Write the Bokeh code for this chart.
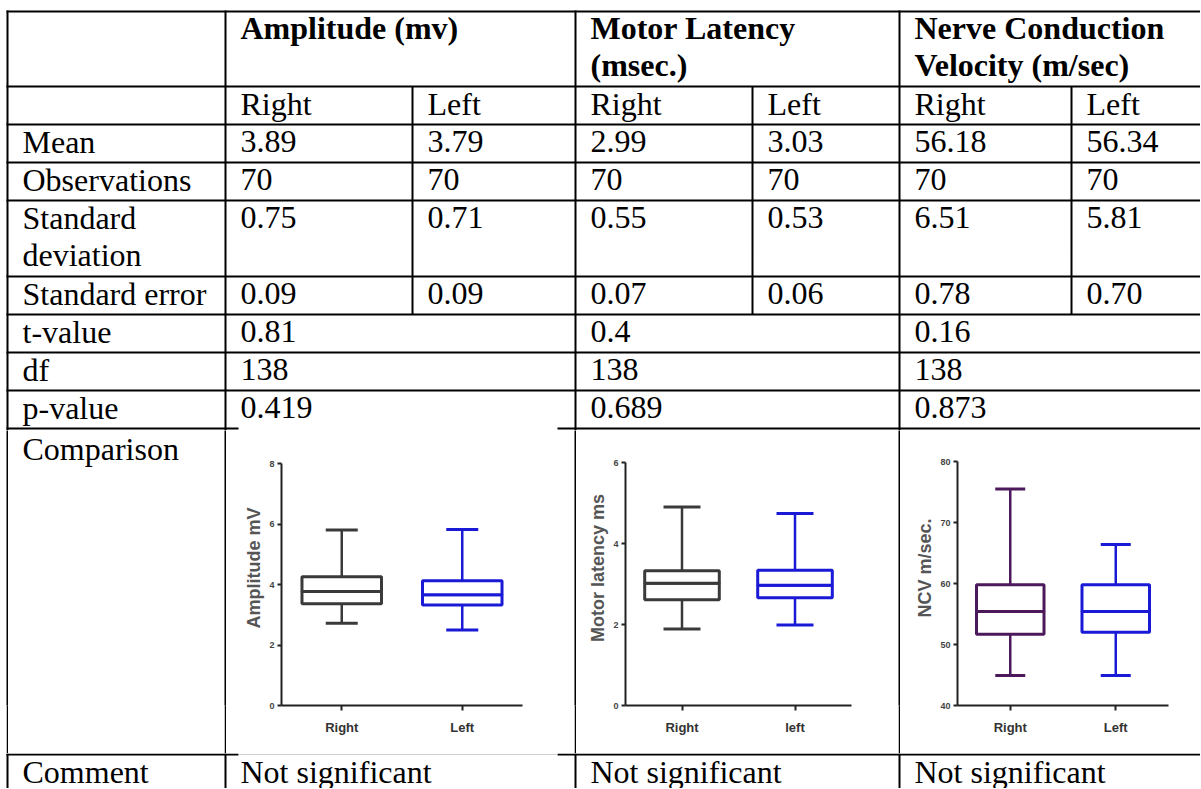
from bokeh.plotting import figure
from bokeh.layouts import column, row
from bokeh.models import Range1d, FactorRange, FixedTicker, ColumnDataSource, Spacer
from bokeh.embed import file_html
from bokeh.resources import INLINE
from bokeh.core.properties import value

# ---------------- data ----------------
row_labels = ["Mean", "Observations", "Standard", "Standard error", "t-value", "df", "p-value", "Comparison", "Comment"]
row_label_wrap = "deviation"
measure_headers = [["Amplitude (mv)"], ["Motor Latency", "(msec.)"], ["Nerve Conduction", "Velocity (m/sec)"]]
sides = ["Right", "Left", "Right", "Left", "Right", "Left"]
mean_vals = ["3.89", "3.79", "2.99", "3.03", "56.18", "56.34"]
obs_vals = ["70", "70", "70", "70", "70", "70"]
sd_vals = ["0.75", "0.71", "0.55", "0.53", "6.51", "5.81"]
se_vals = ["0.09", "0.09", "0.07", "0.06", "0.78", "0.70"]
t_vals = ["0.81", "0.4", "0.16"]
df_vals = ["138", "138", "138"]
p_vals = ["0.419", "0.689", "0.873"]
comments = ["Not significant", "Not significant", "Not significant"]

amp_cats = ["Right", "Left"]
amp_min = [2.72, 2.50]
amp_q1 = [3.36, 3.32]
amp_med = [3.77, 3.66]
amp_q3 = [4.26, 4.12]
amp_max = [5.80, 5.82]
amp_ticks = [0, 2, 4, 6, 8]

mot_cats = ["Right", "left"]
mot_min = [1.89, 1.99]
mot_q1 = [2.61, 2.66]
mot_med = [3.02, 2.97]
mot_q3 = [3.33, 3.34]
mot_max = [4.90, 4.74]
mot_ticks = [0, 2, 4, 6]

ncv_cats = ["Right", "Left"]
ncv_min = [44.9, 44.9]
ncv_q1 = [51.7, 52.0]
ncv_med = [55.4, 55.4]
ncv_q3 = [59.8, 59.8]
ncv_max = [75.5, 66.4]
ncv_ticks = [40, 50, 60, 70, 80]

# ---------------- layout constants (page pixels) ----------------
SERIF = "Liberation Serif"
SANS = "Liberation Sans"
FS = "32px"
W = 1200
LEFT, C1, C1B, C2, C2B, C3, C3B = 7, 225, 412, 575, 752, 899, 1071
ROWS = [11, 86, 124, 162, 200, 276, 314, 352, 390, 428]
CMP_BOTTOM = 754
PAD = 15
BASE = 28          # baseline below a row's top line
MIDOFF = 11        # em-box middle above the baseline
TOP_END, MID_END, PAGE_END = 430, 753, 788
AXIS_Y = 705       # common x-axis position of the three box plots
IMG_GAP = (238, 557)


def table_fig(w, h, x0, x1, ytop, ybot, **kw):
    p = figure(width=w, height=h, x_range=Range1d(x0, x1), y_range=Range1d(ybot, ytop),
               toolbar_location=None, output_backend="svg", min_border=0,
               x_axis_type=None, y_axis_type=None, outline_line_color=None,
               background_fill_color="white", border_fill_color="white", **kw)
    return p


def lines(p, segs, color="black", width=2):
    p.segment(x0=[s[0] for s in segs], y0=[s[1] for s in segs],
              x1=[s[2] for s in segs], y1=[s[3] for s in segs],
              line_color=color, line_width=width)


def put(p, xs, baselines, texts, bold=False):
    p.text(x=xs, y=[b - MIDOFF for b in baselines], text=texts, text_font=value(SERIF),
           text_font_size=FS, text_baseline="middle", text_align="left", text_color="black",
           text_font_style="bold" if bold else "normal")


# ---------------- top part of the table ----------------
top = table_fig(W, TOP_END, 0, W, 0, TOP_END)
segs = []
for y in ROWS[:-1]:
    segs.append((LEFT - 1, y, W, y))
segs.append((LEFT - 1, ROWS[-1], IMG_GAP[0], ROWS[-1]))
segs.append((IMG_GAP[1], ROWS[-1], W, ROWS[-1]))
for x in (LEFT, C1, C2, C3):
    segs.append((x, ROWS[0] - 1, x, TOP_END))
for x in (C1B, C2B, C3B):
    segs.append((x, ROWS[1], x, ROWS[6]))
lines(top, segs)

group_x = [C1 + PAD, C2 + PAD, C3 + PAD]
sub_x = [C1 + PAD, C1B + PAD, C2 + PAD, C2B + PAD, C3 + PAD, C3B + PAD]
lab_x = LEFT + 15

hx, hy, ht = [], [], []
for gx, lines_ in zip(group_x, measure_headers):
    for i, t in enumerate(lines_):
        hx.append(gx)
        hy.append(ROWS[0] + 27 + 37 * i)
        ht.append(t)
put(top, hx, hy, ht, bold=True)

put(top, sub_x, [ROWS[1] + BASE] * 6, sides)

label_rows = [2, 3, 4, 5, 6, 7, 8]
put(top, [lab_x] * 7, [ROWS[r] + BASE for r in label_rows], row_labels[:7])
put(top, [lab_x], [ROWS[4] + BASE + 37], [row_label_wrap])

put(top, sub_x, [ROWS[2] + BASE] * 6, mean_vals)
put(top, sub_x, [ROWS[3] + BASE] * 6, obs_vals)
put(top, sub_x, [ROWS[4] + BASE] * 6, sd_vals)
put(top, sub_x, [ROWS[5] + BASE] * 6, se_vals)
put(top, group_x, [ROWS[6] + BASE] * 3, t_vals)
put(top, group_x, [ROWS[7] + BASE] * 3, df_vals)
put(top, group_x, [ROWS[8] + BASE] * 3, p_vals)

# ---------------- comparison row ----------------
MID_H = MID_END - TOP_END
BB = MID_END - AXIS_Y


def sep():
    return figure(width=2, height=MID_H, x_range=Range1d(0, 1), y_range=Range1d(0, 1),
                  toolbar_location=None, output_backend="svg", min_border=0,
                  min_border_bottom=BB, x_axis_type=None, y_axis_type=None,
                  outline_line_color=None, background_fill_color="black",
                  border_fill_color="black")


label_mid = table_fig(C1 - 1 - (LEFT + 1), MID_H, LEFT + 1, C1 - 1, TOP_END, AXIS_Y,
                      min_border_bottom=BB)
put(label_mid, [lab_x], [ROWS[9] + BASE + 3], [row_labels[7]])


def box_fig(cats, mn, q1, med, q3, mx, colors, lo, hi, ticks, ylabel, x_left, x_right,
            ax_left, ax_right, y_hi_px, box_w, cap_px):
    # range top so that `hi` lands at y_hi_px while `lo` sits on the common axis line
    per_px = (hi - lo) / (AXIS_Y - y_hi_px)
    top_val = hi + (y_hi_px - TOP_END) * per_px
    p = figure(width=x_right - x_left, height=MID_H, x_range=FactorRange(*cats),
               y_range=Range1d(lo, top_val), toolbar_location=None, output_backend="svg",
               min_border_left=ax_left - x_left, min_border_right=x_right - ax_right,
               min_border_top=0, min_border_bottom=BB,
               outline_line_color=None, background_fill_color="white", border_fill_color="white")
    src = ColumnDataSource(dict(cat=cats, mn=mn, q1=q1, med=med, q3=q3, mx=mx, color=colors))
    p.segment(x0="cat", y0="q3", x1="cat", y1="mx", source=src, line_color="color", line_width=2.5)
    p.segment(x0="cat", y0="q1", x1="cat", y1="mn", source=src, line_color="color", line_width=2.5)
    p.vbar(x="cat", bottom="q1", top="med", width=box_w, source=src,
           fill_color="white", line_color="color", line_width=3)
    p.vbar(x="cat", bottom="med", top="q3", width=box_w, source=src,
           fill_color="white", line_color="color", line_width=3)
    p.scatter(x="cat", y="mx", marker="dash", size=cap_px, source=src, line_color="color", line_width=3)
    p.scatter(x="cat", y="mn", marker="dash", size=cap_px, source=src, line_color="color", line_width=3)

    p.xgrid.grid_line_color = None
    p.ygrid.grid_line_color = None

    ya = p.yaxis[0]
    ya.ticker = FixedTicker(ticks=ticks)
    ya.bounds = (lo, hi)
    ya.minor_tick_line_color = None
    ya.major_tick_in = 0
    ya.major_tick_out = 4
    ya.major_tick_line_width = 2
    ya.major_tick_line_color = "#222222"
    ya.axis_line_width = 2
    ya.axis_line_color = "#222222"
    ya.major_label_text_font = SANS
    ya.major_label_text_font_size = "9px"
    ya.major_label_text_font_style = "bold"
    ya.major_label_text_color = "#444444"
    ya.major_label_standoff = 3
    ya.axis_label = ylabel
    ya.axis_label_text_font = SANS
    ya.axis_label_text_font_size = "18px"
    ya.axis_label_text_font_style = "bold"
    ya.axis_label_text_color = "#555555"
    ya.axis_label_standoff = 2

    xa = p.xaxis[0]
    xa.major_tick_in = 0
    xa.major_tick_out = 5
    xa.major_tick_line_width = 2
    xa.major_tick_line_color = "#222222"
    xa.axis_line_width = 2
    xa.axis_line_color = "#222222"
    xa.major_label_text_font = SANS
    xa.major_label_text_font_size = "13px"
    xa.major_label_text_font_style = "bold"
    xa.major_label_text_color = "#333333"
    xa.major_label_standoff = 9
    return p


DARK = "#3a3a3a"
BLUE = "#1a1ad6"
PURPLE = "#4c1a5c"

amp = box_fig(amp_cats, amp_min, amp_q1, amp_med, amp_q3, amp_max, [DARK, BLUE],
              0, 8, amp_ticks, "Amplitude mV", C1 + 1, C2 - 1, 281, 522, 463, 0.66, 32)
mot = box_fig(mot_cats, mot_min, mot_q1, mot_med, mot_q3, mot_max, [DARK, BLUE],
              0, 6, mot_ticks, "Motor latency ms", C2 + 1, C3 - 1, 625, 851, 462, 0.66, 37)
ncv = box_fig(ncv_cats, ncv_min, ncv_q1, ncv_med, ncv_q3, ncv_max, [PURPLE, BLUE],
              40, 80, ncv_ticks, "NCV m/sec.", C3 + 1, W, 957, 1168, 461, 0.64, 30)

mid = row(Spacer(width=LEFT - 1, height=MID_H), sep(), label_mid, sep(), amp, sep(), mot,
          sep(), ncv, spacing=0)

# ---------------- comment row ----------------
bot = table_fig(W, PAGE_END - MID_END, 0, W, MID_END, PAGE_END)
lines(bot, [(LEFT - 1, CMP_BOTTOM, IMG_GAP[0], CMP_BOTTOM), (IMG_GAP[1], CMP_BOTTOM, W, CMP_BOTTOM)])
lines(bot, [(IMG_GAP[0], CMP_BOTTOM, IMG_GAP[1], CMP_BOTTOM)], color="#cfcfcf", width=1)
lines(bot, [(x, MID_END, x, PAGE_END) for x in (LEFT, C1, C2, C3)])
put(bot, [lab_x], [CMP_BOTTOM + BASE], [row_labels[8]])
put(bot, group_x, [CMP_BOTTOM + BASE] * 3, comments)

layout = column(top, mid, bot, spacing=0)

open("out.html", "w").write(file_html(layout, INLINE))
